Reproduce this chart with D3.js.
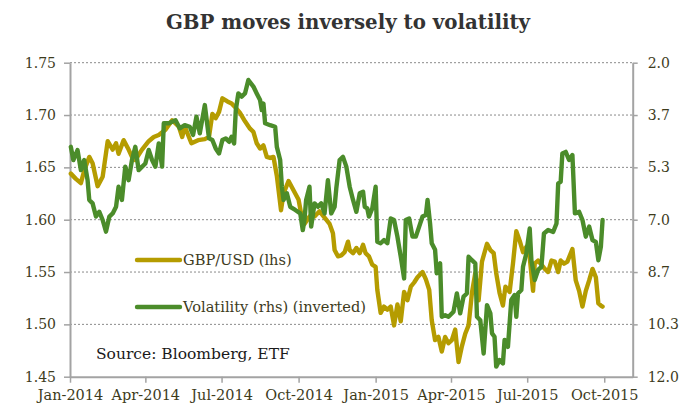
<!DOCTYPE html>
<html>
<head>
<meta charset="utf-8">
<script src="https://cdn.jsdelivr.net/npm/d3@7"></script>
<style>
  html, body { margin: 0; padding: 0; background: #ffffff; }
  svg { display: block; }
</style>
</head>
<body>
<svg id="chart" width="681" height="408"></svg>
<script>
// GBP/USD spot (left axis)
const gbpDates = [
  "2014-01-02","2014-01-08","2014-01-14","2014-01-18","2014-01-24","2014-01-28","2014-02-03","2014-02-09",
  "2014-02-15","2014-02-21","2014-02-25","2014-02-28","2014-03-06","2014-03-12","2014-03-16","2014-03-20",
  "2014-03-28","2014-04-05","2014-04-11","2014-04-17","2014-04-25","2014-05-03","2014-05-11","2014-05-15",
  "2014-05-18","2014-05-26","2014-06-03","2014-06-11","2014-06-16","2014-06-20","2014-06-24","2014-06-28",
  "2014-07-02","2014-07-08","2014-07-13","2014-07-19","2014-07-23","2014-07-29","2014-08-04","2014-08-08",
  "2014-08-12","2014-08-16","2014-08-20","2014-08-24","2014-08-28","2014-09-01","2014-09-05","2014-09-10",
  "2014-09-13","2014-09-19","2014-09-23","2014-09-27","2014-10-01","2014-10-04","2014-10-08","2014-10-14",
  "2014-10-20","2014-10-26","2014-11-03","2014-11-07","2014-11-11","2014-11-13","2014-11-17","2014-11-21",
  "2014-11-25","2014-11-29","2014-12-01","2014-12-05","2014-12-09","2014-12-13","2014-12-17","2014-12-20",
  "2014-12-24","2014-12-28","2015-01-01","2015-01-03","2015-01-07","2015-01-11","2015-01-15","2015-01-19",
  "2015-01-23","2015-01-27","2015-01-31","2015-02-04","2015-02-08","2015-02-12","2015-02-16","2015-02-20",
  "2015-02-26","2015-03-02","2015-03-06","2015-03-09","2015-03-13","2015-03-17","2015-03-21","2015-03-25",
  "2015-03-29","2015-04-02","2015-04-06","2015-04-10","2015-04-14","2015-04-18","2015-04-22","2015-04-26",
  "2015-04-30","2015-05-04","2015-05-08","2015-05-14","2015-05-18","2015-05-22","2015-05-25","2015-05-29",
  "2015-06-02","2015-06-05","2015-06-10","2015-06-14","2015-06-18","2015-06-22","2015-06-26","2015-06-30",
  "2015-07-04","2015-07-08","2015-07-10","2015-07-14","2015-07-18","2015-07-22","2015-07-26","2015-07-30",
  "2015-08-03","2015-08-07","2015-08-10","2015-08-14","2015-08-18","2015-08-24","2015-08-28","2015-09-01",
  "2015-09-05","2015-09-09","2015-09-13","2015-09-17","2015-09-21","2015-09-24","2015-09-27","2015-09-29"
];
const gbpValues = [
  1.644,1.639,1.635,1.647,1.660,1.654,1.632,1.641,
  1.675,1.667,1.673,1.663,1.676,1.667,1.660,1.657,
  1.667,1.675,1.679,1.681,1.686,1.695,1.689,1.679,
  1.689,1.673,1.676,1.677,1.679,1.701,1.697,1.703,
  1.716,1.713,1.711,1.706,1.702,1.694,1.687,1.684,
  1.673,1.668,1.671,1.660,1.659,1.660,1.642,1.609,
  1.625,1.637,1.631,1.625,1.619,1.606,1.596,1.603,
  1.603,1.608,1.600,1.596,1.587,1.571,1.565,1.566,
  1.569,1.579,1.571,1.568,1.573,1.568,1.576,1.568,
  1.565,1.557,1.555,1.533,1.511,1.517,1.514,1.517,
  1.499,1.519,1.503,1.531,1.523,1.536,1.540,1.545,
  1.550,1.543,1.533,1.504,1.485,1.488,1.474,1.488,
  1.482,1.485,1.495,1.464,1.479,1.491,1.499,1.530,
  1.549,1.523,1.560,1.577,1.571,1.568,1.549,1.530,
  1.518,1.536,1.531,1.558,1.589,1.580,1.569,1.574,
  1.564,1.532,1.558,1.561,1.557,1.553,1.550,1.561,
  1.560,1.550,1.561,1.558,1.560,1.572,1.542,1.532,
  1.517,1.532,1.542,1.553,1.545,1.520,1.518,1.517
];

// GBP/USD implied volatility (right axis, inverted)
const volDates = [
  "2014-01-02","2014-01-05","2014-01-10","2014-01-14","2014-01-18","2014-01-22","2014-01-24","2014-01-28",
  "2014-02-01","2014-02-05","2014-02-09","2014-02-13","2014-02-17","2014-02-21","2014-02-25","2014-02-28",
  "2014-03-04","2014-03-08","2014-03-12","2014-03-16","2014-03-20","2014-03-24","2014-04-01","2014-04-05",
  "2014-04-09","2014-04-13","2014-04-17","2014-04-21","2014-04-23","2014-04-29","2014-05-07","2014-05-12",
  "2014-05-18","2014-05-24","2014-05-28","2014-06-01","2014-06-05","2014-06-11","2014-06-16","2014-06-20",
  "2014-06-24","2014-06-28","2014-07-02","2014-07-06","2014-07-10","2014-07-13","2014-07-16","2014-07-18",
  "2014-07-21","2014-07-25","2014-07-29","2014-08-02","2014-08-08","2014-08-12","2014-08-16","2014-08-18",
  "2014-08-20","2014-08-22","2014-08-28","2014-09-03","2014-09-05","2014-09-09","2014-09-11","2014-09-13",
  "2014-09-17","2014-09-21","2014-09-27","2014-10-03","2014-10-06","2014-10-08","2014-10-10","2014-10-14",
  "2014-10-16","2014-10-20","2014-10-24","2014-10-28","2014-11-01","2014-11-05","2014-11-09","2014-11-13",
  "2014-11-15","2014-11-19","2014-11-23","2014-11-27","2014-12-01","2014-12-05","2014-12-09","2014-12-13",
  "2014-12-17","2014-12-19","2014-12-22","2014-12-24","2014-12-28","2015-01-01","2015-01-03","2015-01-07",
  "2015-01-11","2015-01-15","2015-01-19","2015-01-23","2015-01-27","2015-01-31","2015-02-04","2015-02-06",
  "2015-02-10","2015-02-14","2015-02-18","2015-02-22","2015-02-26","2015-03-02","2015-03-04","2015-03-07",
  "2015-03-09","2015-03-13","2015-03-15","2015-03-19","2015-03-21","2015-03-25","2015-03-29","2015-04-04",
  "2015-04-08","2015-04-12","2015-04-16","2015-04-20","2015-04-22","2015-04-26","2015-04-30","2015-05-02",
  "2015-05-06","2015-05-10","2015-05-14","2015-05-18","2015-05-20","2015-05-23","2015-05-25","2015-05-29",
  "2015-06-02","2015-06-04","2015-06-08","2015-06-12","2015-06-16","2015-06-18","2015-06-20","2015-06-24",
  "2015-06-26","2015-06-30","2015-07-04","2015-07-06","2015-07-10","2015-07-14","2015-07-18","2015-07-21",
  "2015-07-26","2015-08-01","2015-08-05","2015-08-07","2015-08-10","2015-08-12","2015-08-16","2015-08-20",
  "2015-08-24","2015-08-27","2015-09-01","2015-09-05","2015-09-09","2015-09-13","2015-09-17","2015-09-21",
  "2015-09-24","2015-09-27","2015-09-29"
];
const volValues = [
  4.68,5.10,4.78,5.42,5.10,5.74,6.37,6.48,
  6.90,6.75,7.01,7.38,6.90,6.80,6.59,5.95,
  6.37,5.31,5.74,5.10,4.68,5.42,5.21,4.78,
  5.10,5.31,4.57,5.31,3.93,3.93,3.83,4.09,
  3.99,4.04,4.30,3.72,4.25,3.35,4.41,4.46,
  4.73,4.89,4.46,4.41,4.52,4.36,4.57,3.51,
  2.98,3.08,2.98,2.55,2.76,2.98,3.19,3.51,
  3.30,3.93,3.99,4.04,4.68,5.10,5.95,6.37,
  6.16,6.59,6.69,6.80,7.33,7.01,6.37,5.95,
  7.22,6.48,6.59,6.48,6.80,5.74,6.80,6.59,
  6.01,5.10,5.00,5.31,5.95,6.37,6.75,6.16,
  6.11,6.59,6.64,6.90,6.64,5.95,7.70,7.75,
  7.65,7.75,6.96,7.01,7.54,8.18,8.87,7.01,
  6.96,7.54,7.54,7.22,6.90,6.85,6.37,7.12,
  7.75,7.96,8.71,8.39,10.09,10.04,10.09,9.93,
  9.35,9.98,9.45,9.35,8.18,8.29,8.39,10.09,
  10.20,11.26,9.72,9.98,10.62,10.73,11.68,11.47,
  11.58,10.83,11.05,9.56,9.40,10.09,9.35,9.24,
  8.50,8.07,7.28,8.29,8.92,8.60,8.50,7.44,
  7.33,7.39,7.12,5.85,5.79,4.89,4.84,5.10,
  4.94,6.80,6.75,7.01,7.54,7.22,7.65,7.71,
  8.29,7.86,7.01
];

// Axis ticks
const leftTicks = [1.45, 1.50, 1.55, 1.60, 1.65, 1.70, 1.75];
const rightTicks = [2.0, 3.667, 5.333, 7.0, 8.667, 10.333, 12.0];
const xTicks = ["2014-01-01","2014-04-01","2014-07-01","2014-10-01","2015-01-01","2015-04-01","2015-07-01","2015-10-01"];
const xDomain = ["2014-01-01","2015-11-04"];

const seriesNames = ["GBP/USD (lhs)", "Volatility (rhs) (inverted)"];
const titleText = "GBP moves inversely to volatility";
const sourceText = "Source: Bloomberg, ETF";

const GOLD = "#b59c00", GREEN = "#4b8c2a";
const LABEL = "#3d3b1c", AXIS = "#a3a3a3";
const FONT = "'DejaVu Serif', serif";

const parse = d3.timeParse("%Y-%m-%d");
const svg = d3.select("#chart");

const plot = { left: 70, right: 632.7, top: 62.7, bottom: 376.7 };

const x = d3.scaleTime().domain(xDomain.map(parse)).range([plot.left, plot.right]);
const yL = d3.scaleLinear().domain([1.45, 1.75]).range([plot.bottom, plot.top]);
const yR = d3.scaleLinear().domain([2, 12]).range([plot.top, plot.bottom]);

// title
svg.append("text")
  .attr("x", 348).attr("y", 29)
  .attr("text-anchor", "middle")
  .attr("font-family", FONT).attr("font-weight", "bold").attr("font-size", 19.8)
  .attr("fill", "#333333")
  .text(titleText);

// dotted horizontal gridlines
svg.append("g").selectAll("line")
  .data(leftTicks.slice(1))
  .join("line")
  .attr("x1", plot.left).attr("x2", plot.right)
  .attr("y1", d => yL(d)).attr("y2", d => yL(d))
  .attr("stroke", "#8a8a8a").attr("stroke-width", 1)
  .attr("stroke-dasharray", "2,2");

// axes
function styleAxis(g) {
  g.select(".domain").attr("stroke", AXIS).attr("stroke-width", 2);
  g.selectAll(".tick line").attr("stroke", AXIS).attr("stroke-width", 1.5);
  g.selectAll(".tick text").attr("fill", LABEL).attr("font-family", FONT).attr("font-size", 14);
}

svg.append("g")
  .attr("transform", `translate(${plot.left},0)`)
  .call(d3.axisLeft(yL).tickValues(leftTicks).tickFormat(d3.format(".2f")).tickSize(6).tickSizeOuter(0).tickPadding(8))
  .call(styleAxis);

svg.append("g")
  .attr("transform", `translate(${plot.right},0)`)
  .call(d3.axisRight(yR).tickValues(rightTicks).tickFormat(d3.format(".1f")).tickSize(5).tickSizeOuter(0).tickPadding(10))
  .call(styleAxis);

svg.append("g")
  .attr("transform", `translate(0,${plot.bottom})`)
  .call(d3.axisBottom(x).tickValues(xTicks.map(parse)).tickFormat(d3.timeFormat("%b-%Y")).tickSize(6).tickSizeOuter(0).tickPadding(7))
  .call(styleAxis)
  .call(g => g.selectAll(".tick text").attr("font-size", 14.5));

// series lines
const gbpData = gbpDates.map((d, i) => ({ date: parse(d), v: gbpValues[i] }));
const volData = volDates.map((d, i) => ({ date: parse(d), v: volValues[i] }));

svg.append("path")
  .datum(gbpData)
  .attr("fill", "none").attr("stroke", GOLD).attr("stroke-width", 4.4)
  .attr("stroke-linejoin", "round").attr("stroke-linecap", "round")
  .attr("d", d3.line().x(d => x(d.date)).y(d => yL(d.v)));

svg.append("path")
  .datum(volData)
  .attr("fill", "none").attr("stroke", GREEN).attr("stroke-width", 4.4)
  .attr("stroke-linejoin", "round").attr("stroke-linecap", "round")
  .attr("d", d3.line().x(d => x(d.date)).y(d => yR(d.v)));

// legend
const legend = svg.append("g");
[GOLD, GREEN].forEach((c, i) => {
  const ly = 260 + i * 47;
  legend.append("line")
    .attr("x1", 137).attr("x2", 180).attr("y1", ly).attr("y2", ly)
    .attr("stroke", c).attr("stroke-width", 4.4).attr("stroke-linecap", "round");
  legend.append("text")
    .attr("x", 183).attr("y", ly + 5)
    .attr("font-family", FONT).attr("font-size", 14.6).attr("fill", LABEL)
    .text(seriesNames[i]);
});

// source note
svg.append("text")
  .attr("x", 96).attr("y", 359)
  .attr("font-family", FONT).attr("font-size", 15.5).attr("fill", "#1a1a1a")
  .text(sourceText);
</script>
</body>
</html>
